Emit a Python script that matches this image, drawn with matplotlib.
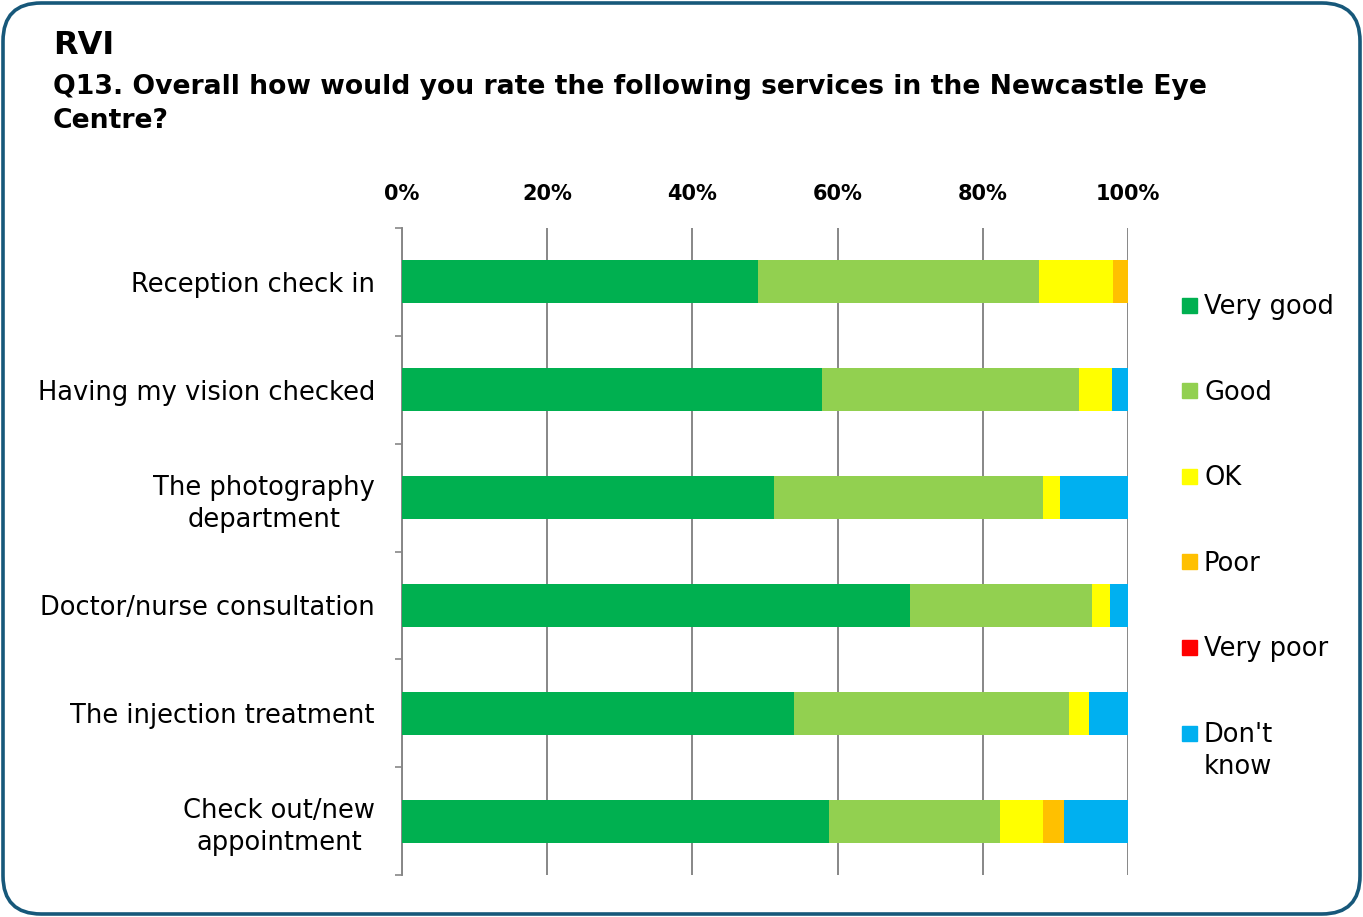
import numpy as np
import matplotlib.pyplot as plt
from matplotlib.patches import FancyBboxPatch, Rectangle

plt.rcParams['font.family'] = ['DejaVu Sans']

# survey results, % of respondents per service
services = ["Reception check in", "Having my vision checked",
            "The photography\ndepartment", "Doctor/nurse consultation",
            "The injection treatment", "Check out/new\nappointment"]
ratings = ["Very good", "Good", "OK", "Poor", "Very poor", "Don't\nknow"]
very_good = [49.0, 57.9, 51.2, 70.0, 54.0, 58.8]
good = [38.7, 35.4, 37.1, 25.0, 37.9, 23.6]
ok = [10.3, 4.5, 2.4, 2.5, 2.7, 5.9]
poor = [2.0, 0.0, 0.0, 0.0, 0.0, 2.9]
very_poor = [0.0, 0.0, 0.0, 0.0, 0.0, 0.0]
dont_know = [0.0, 2.2, 9.3, 2.5, 5.4, 8.8]
colors = ["#00B050", "#92D050", "#FFFF00", "#FFC000", "#FF0000", "#00B0F0"]

W, H = 1363, 917
fig = plt.figure(figsize=(W / 100, H / 100), dpi=100)
ax = fig.add_axes([402 / W, 1 - 875 / H, (1128 - 402) / W, (875 - 228) / H])

# rounded outer frame
frame = FancyBboxPatch((3 / W, 3 / H), (W - 6) / W, (H - 6) / H,
                       boxstyle="round,pad=0,rounding_size=0.028",
                       transform=fig.transFigure, fill=False,
                       edgecolor="#17587A", linewidth=2.6,
                       mutation_aspect=W / H)
fig.patches.append(frame)

y = np.arange(len(services))
left = np.zeros(len(services))
for vals, c in zip([very_good, good, ok, poor, very_poor, dont_know], colors):
    ax.barh(y, vals, left=left, height=0.4, color=c, zorder=3)
    left += np.array(vals)

ax.set_xlim(0, 100)
ax.set_ylim(len(services) - 0.5, -0.5)
ax.xaxis.tick_top()
ax.set_xticks(range(0, 101, 20))
ax.set_xticklabels([f"{v}%" for v in range(0, 101, 20)],
                   fontsize=15, fontweight="bold")
ax.tick_params(axis="x", length=0, pad=17)
ax.grid(axis="x", color="#878787", linewidth=1.4, zorder=1)

ax.set_yticks(y)
ax.set_yticklabels(services, fontsize=18.5, linespacing=1.3)
for lbl in ax.get_yticklabels():
    lbl.set_multialignment("center")
ax.set_yticks(np.arange(-0.5, len(services)), minor=True)
ax.tick_params(axis="y", which="major", length=0, pad=19.5)
ax.tick_params(axis="y", which="minor", length=5, color="#878787", width=1.2)

for s in ["top", "right", "bottom"]:
    ax.spines[s].set_visible(False)
ax.spines["left"].set_color("#878787")
ax.spines["left"].set_linewidth(1.4)

# legend down the right-hand side
for i, (name, c) in enumerate(zip(ratings, colors)):
    yc = 305 + i * 85.6
    fig.patches.append(Rectangle((1182 / W, 1 - (yc + 7.5) / H), 15 / W, 15 / H,
                                 transform=fig.transFigure, color=c))
    fig.text(1204 / W, 1 - (yc - 11) / H, name, fontsize=18.5,
             va="top", ha="left", linespacing=1.3)

fig.text(53 / W, 1 - 45 / H, "RVI", fontsize=23, fontweight="bold", va="center")
fig.text(53 / W, 1 - 104 / H,
         "Q13. Overall how would you rate the following services in the Newcastle Eye\nCentre?",
         fontsize=19.2, fontweight="bold", va="center", linespacing=1.45)

fig.savefig("out.png", dpi=100)
